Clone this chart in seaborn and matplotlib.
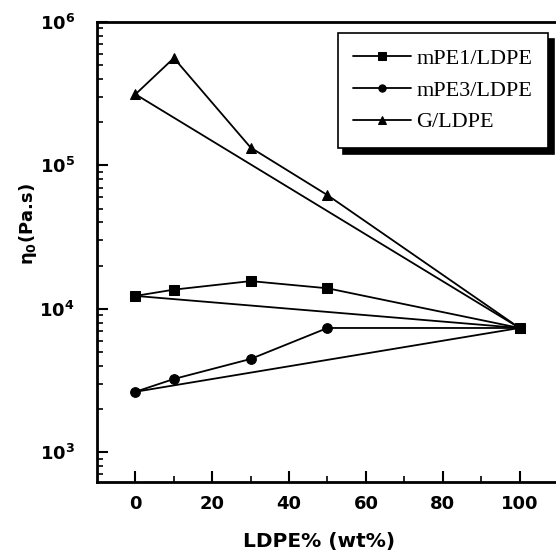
import matplotlib
matplotlib.use("Agg")
import matplotlib.pyplot as plt
from matplotlib.ticker import FixedLocator, LogLocator, FuncFormatter, NullFormatter
import seaborn as sns
import pandas as pd
import numpy as np

# LDPE content (wt%)
ldpe = [0, 10, 30, 50, 100]
# zero-shear viscosity (Pa.s)
mpe1_ldpe = [1.23e4, 1.36e4, 1.56e4, 1.39e4, 7.35e3]
mpe3_ldpe = [2.64e3, 3.24e3, 4.47e3, 7.35e3, 7.35e3]
g_ldpe = [3.13e5, 5.6e5, 1.33e5, 6.2e4, 7.35e3]

series = {"mPE1/LDPE": (mpe1_ldpe, "s"),
          "mPE3/LDPE": (mpe3_ldpe, "o"),
          "G/LDPE": (g_ldpe, "^")}

sns.set_style("white")
plt.rcParams['font.family'] = ['DejaVu Sans']
plt.rcParams.update({'text.color': 'black', 'axes.labelcolor': 'black',
                     'xtick.color': 'black', 'ytick.color': 'black'})

fig = plt.figure(figsize=(5.56, 5.55), dpi=100)
ax = fig.add_axes([0.1745, 0.1315, 0.829, 0.829])

for name, (vals, mk) in series.items():
    df = pd.DataFrame({'x': ldpe, 'y': vals})
    sns.lineplot(data=df, x='x', y='y', ax=ax, color='black', lw=1.3,
                 marker=mk, markersize=7, markeredgecolor='black',
                 label=name, sort=False)
    # log-additivity line between the pure components
    ends = pd.DataFrame({'x': [ldpe[0], ldpe[-1]], 'y': [vals[0], vals[-1]]})
    sns.lineplot(data=ends, x='x', y='y', ax=ax, color='black', lw=1.3,
                 legend=False)

ax.set_yscale('log')
ax.set_xlim(-10, 110)
ax.set_ylim(620, 1e6)

ax.xaxis.set_major_locator(FixedLocator([0, 20, 40, 60, 80, 100]))
ax.xaxis.set_minor_locator(FixedLocator([10, 30, 50, 70, 90]))
ax.yaxis.set_major_locator(LogLocator(base=10, numticks=20))
ax.yaxis.set_minor_locator(LogLocator(base=10, subs=np.arange(2, 10), numticks=50))
ax.yaxis.set_minor_formatter(NullFormatter())
ax.yaxis.set_major_formatter(FuncFormatter(lambda v, p: r'$\mathbf{10^{%d}}$' % round(np.log10(v))))

ax.tick_params(axis='both', which='major', direction='in', length=8, width=1.5,
               labelsize=13, bottom=True, left=True)
ax.tick_params(axis='x', which='major', pad=9)
ax.tick_params(axis='y', which='major', pad=16)
ax.tick_params(axis='both', which='minor', direction='in', length=4, width=1.2,
               bottom=True, left=True)
for lbl in ax.get_xticklabels():
    lbl.set_fontweight('bold')

for side in ['left', 'bottom', 'top']:
    ax.spines[side].set_color('black')
    ax.spines[side].set_linewidth(2)
ax.spines['right'].set_visible(False)

ax.set_xlabel('LDPE% (wt%)', fontsize=14.5, fontweight='bold')
ax.set_ylabel(r'$\mathbf{\eta_0}$(Pa.s)', fontsize=13, fontweight='bold')
ax.xaxis.set_label_coords(0.482, -0.108)
ax.yaxis.set_label_coords(-0.126, 0.56)

handles, labels = ax.get_legend_handles_labels()
leg = ax.legend(handles, labels, loc='upper right',
                bbox_to_anchor=(548 / 556, 1 - 33 / 555), bbox_transform=fig.transFigure,
                borderaxespad=0, frameon=True, fancybox=False,
                shadow={'ox': 4, 'oy': -4, 'color': 'black', 'alpha': 1},
                edgecolor='black', framealpha=1, handlelength=2.6, markerscale=0.75,
                prop={'family': 'Liberation Serif', 'size': 16},
                borderpad=0.7, labelspacing=0.5, handletextpad=0.25)
leg.get_frame().set_linewidth(1.2)

fig.savefig('out.png', dpi=100)
